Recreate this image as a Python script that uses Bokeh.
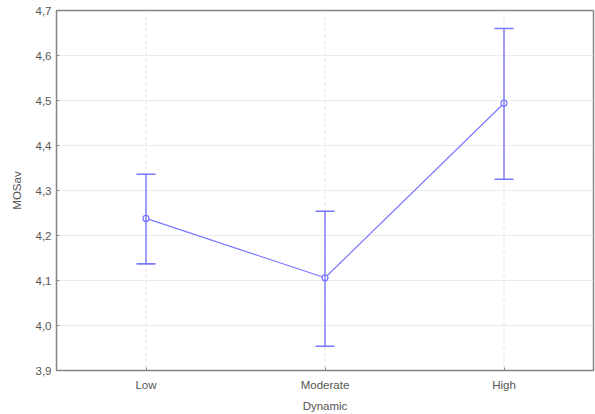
from bokeh.plotting import figure
from bokeh.models import (ColumnDataSource, FixedTicker, CustomJSTickFormatter,
                          Whisker, TeeHead, Span, Range1d)
from bokeh.embed import file_html
from bokeh.resources import INLINE

categories = ["Low", "Moderate", "High"]
means = [4.238, 4.106, 4.494]
upper = [4.336, 4.254, 4.660]
lower = [4.137, 3.954, 4.325]
y_ticks = [3.9, 4.0, 4.1, 4.2, 4.3, 4.4, 4.5, 4.6, 4.7]

xs = list(range(len(categories)))
src = ColumnDataSource(dict(x=xs, mean=means, upper=upper, lower=lower))

FONT = "Liberation Sans"
TXT = "#555555"
FRAME = "#858585"
BLUE = "#7777ff"

p = figure(width=595, height=414, output_backend="svg", toolbar_location=None,
           x_range=Range1d(-0.5, 2.5), y_range=Range1d(3.9, 4.7),
           min_border_left=56, min_border_right=2, min_border_top=10, min_border_bottom=42)
p.outline_line_color = FRAME
p.outline_line_width = 1.5
p.background_fill_color = "white"

fmt = CustomJSTickFormatter(code="return tick.toFixed(1).replace('.', ',');")
p.yaxis.ticker = FixedTicker(ticks=y_ticks)
p.yaxis.formatter = fmt
p.xaxis.ticker = FixedTicker(ticks=xs)
p.xaxis.major_label_overrides = {i: c for i, c in enumerate(categories)}

for ax in (p.xaxis[0], p.yaxis[0]):
    ax.axis_line_color = None
    ax.major_tick_in = 3
    ax.major_tick_out = 0
    ax.major_tick_line_color = FRAME
    ax.minor_tick_line_color = None
    ax.major_label_text_font = FONT
    ax.major_label_text_font_size = "11.5px"
    ax.major_label_text_color = TXT
    ax.axis_label_text_font = FONT
    ax.axis_label_text_font_size = "11.5px"
    ax.axis_label_text_color = TXT
    ax.axis_label_text_font_style = "normal"

p.xaxis.axis_label = "Dynamic"
p.yaxis.axis_label = "MOSav"
p.xaxis.major_label_standoff = 8
p.xaxis.axis_label_standoff = 6
p.yaxis.major_label_standoff = 5
p.yaxis.axis_label_standoff = 10

p.ygrid.grid_line_color = "#ececec"
p.ygrid.grid_line_width = 1
p.xgrid.grid_line_color = None
for x in xs:
    p.add_layout(Span(location=x, dimension="height", line_color="#e8d8e2",
                      line_dash="3 3", line_width=1, level="underlay"))

w = Whisker(source=src, base="x", upper="upper", lower="lower",
            line_color=BLUE, line_width=1.4, level="glyph",
            upper_head=TeeHead(size=19, line_color=BLUE, line_width=1.6),
            lower_head=TeeHead(size=19, line_color=BLUE, line_width=1.6))
p.add_layout(w)

p.line("x", "mean", source=src, line_color=BLUE, line_width=1.2)
p.scatter("x", "mean", source=src, size=6, marker="circle", fill_color="white",
          line_color=BLUE, line_width=1.2)

open("out.html", "w").write(file_html(p, INLINE))
